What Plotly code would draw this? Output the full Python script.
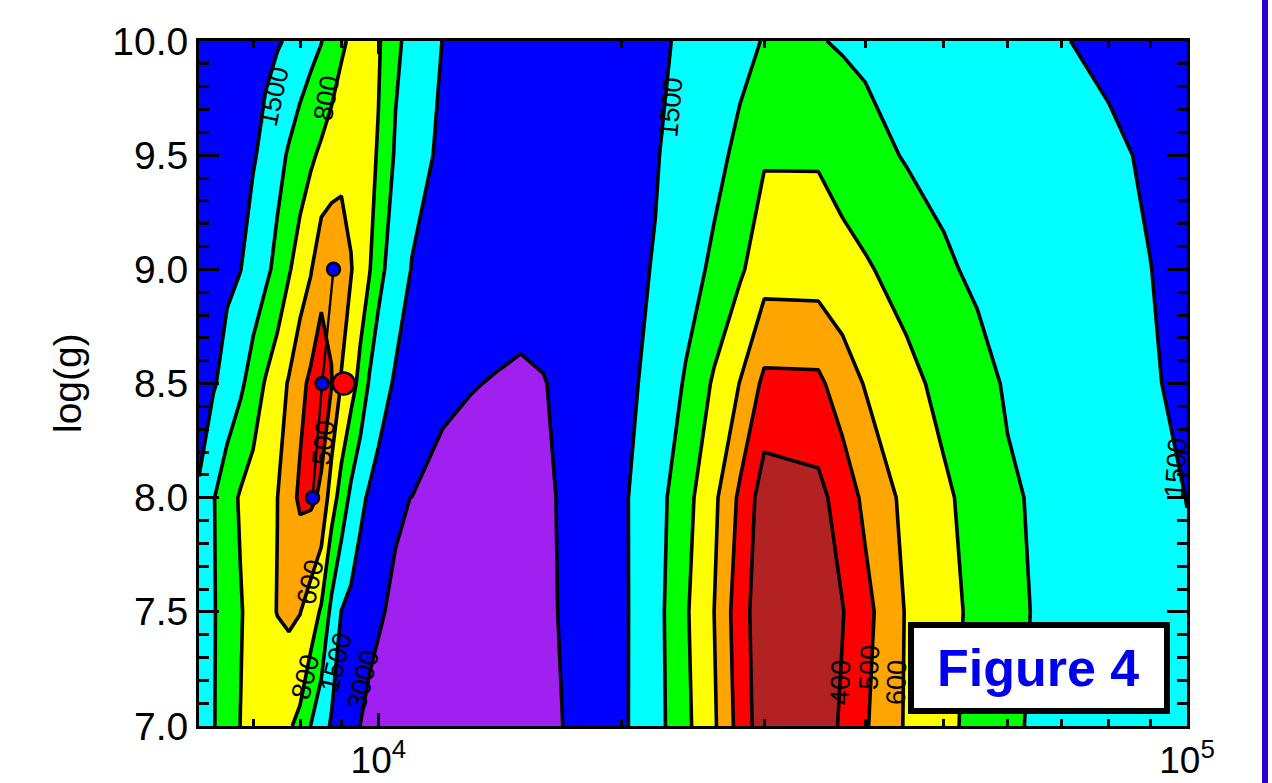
import numpy as np
import plotly.graph_objects as go

# ---------------- data ----------------
TEFF = [6000, 6250, 6500, 6750, 7000, 7250, 7500, 7750, 8000, 8250,
        8500, 8750, 9000, 9250, 9500, 9750, 10000, 10500, 11000, 12000,
        13000, 14000, 15000, 16000, 17000, 18000, 20000, 22000, 24000, 26000,
        28000, 30000, 35000, 37500, 40000, 45000, 50000, 55000, 60000, 70000,
        80000, 90000, 100000]
LOGG = [7.0, 7.5, 8.0, 8.5, 9.0, 9.5, 10.0]

CHI2_G70 = [1250, 1030, 904, 798, 774, 750, 756, 780, 846, 1010, 1305, 1650, 2175, 2670, 3030,
            3180, 3300, 3540, 3780, 4230, 4350, 3990, 3630, 3300, 2985, 2535, 1725, 1195, 844, 630,
            461, 340, 350, 413, 490, 622, 750, 858, 982, 1100, 1220, 1330, 1425]
CHI2_G75 = [1300, 1040, 912, 814, 734, 660, 597, 581, 597, 694, 826, 1125, 1530, 1860, 2175,
            2895, 2955, 3150, 3390, 3810, 4200, 3870, 3540, 3240, 2940, 2505, 1740, 1185, 824, 602,
            444, 335, 350, 396, 470, 616, 738, 844, 974, 1090, 1225, 1345, 1450]
CHI2_G80 = [1460, 1030, 882, 780, 718, 658, 602, 540, 483, 482, 515, 708, 880, 1115, 1405,
            1680, 1965, 2940, 3015, 3900, 4350, 4140, 3750, 3300, 2895, 2475, 1710, 1215, 864, 644,
            481, 349, 372, 443, 522, 652, 768, 866, 980, 1115, 1260, 1385, 1515]
CHI2_G85 = [2025, 1635, 1335, 1095, 912, 784, 684, 592, 528, 480, 450, 495, 612, 724, 860,
            1055, 1305, 1650, 1905, 2700, 2925, 3180, 3420, 3090, 2775, 2460, 1875, 1370, 980, 774,
            597, 477, 480, 550, 612, 744, 854, 950, 1040, 1200, 1340, 1465, 1725]
CHI2_G90 = [2250, 2010, 1755, 1530, 1315, 1115, 944, 818, 710, 614, 530, 525, 555, 595, 688,
            788, 934, 1285, 1545, 1785, 2010, 2205, 2400, 2520, 2325, 2130, 1800, 1480, 1200, 964,
            828, 686, 692, 736, 778, 878, 978, 1065, 1140, 1275, 1390, 1495, 1800]
CHI2_G95 = [2400, 2190, 1980, 1800, 1605, 1400, 1160, 978, 900, 830, 766, 708, 650, 658, 708,
            758, 814, 1060, 1375, 1665, 1875, 2055, 2220, 2385, 2250, 2100, 1830, 1575, 1345, 1135,
            956, 818, 818, 878, 936, 1035, 1110, 1175, 1240, 1350, 1445, 1620, 1950]
CHI2_G100 = [2550, 2385, 2205, 2055, 1890, 1740, 1605, 1455, 1295, 1155, 1015, 922, 834, 768, 716,
             732, 778, 962, 1160, 1515, 1725, 1920, 2100, 2280, 2370, 2205, 1920, 1665, 1450, 1285,
             1135, 990, 990, 1045, 1090, 1175, 1245, 1315, 1375, 1485, 1695, 1905, 2100]

CONTOUR_LEVELS = [400, 500, 600, 800, 1000, 1500, 3000]
BAND_FLOOR = 300
BAND_CEIL = 6000

FIT_TEFF = [8800, 8520, 8290]
FIT_LOGG = [9.0, 8.5, 8.0]
BEST_TEFF = [9060]
BEST_LOGG = [8.5]

Y_TICKS = [7.0, 7.5, 8.0, 8.5, 9.0, 9.5, 10.0]
X_TICKS = [1e4, 1e5]
X_TICKTEXT = ["10<sup>4</sup>", "10<sup>5</sup>"]
X_MINOR = [7000, 8000, 9000, 20000, 30000, 40000, 50000, 60000, 70000, 80000, 90000]

LABEL_TEXT = ["1500", "800", "1500", "500", "600", "800", "1500", "3000", "400", "500", "600", "1500"]
LABEL_TEFF = [7420, 8630, 23020, 8550, 8240, 8125, 8875, 9585, 37250, 40450, 43690, 96900]
LABEL_LOGG = [9.755, 9.75, 9.71, 8.24, 7.63, 7.215, 7.28, 7.20, 7.19, 7.255, 7.19, 8.13]
LABEL_ANGLE = [-78, -80, -85, -84, -78, -76, -76, -76, -88, -88, -88, -86]

BAND_COLORS = ["#B22222", "#FF0000", "#FFA500", "#FFFF00", "#00FF00", "#00FFFF", "#0000FF", "#A020F0"]

# ---------------- build ----------------
FONT = "Liberation Sans, Arial, Helvetica, sans-serif"
z = np.array([CHI2_G70, CHI2_G75, CHI2_G80, CHI2_G85, CHI2_G90, CHI2_G95, CHI2_G100], dtype=float)
edges = [BAND_FLOOR] + CONTOUR_LEVELS + [BAND_CEIL]
zi = np.interp(z, edges, np.arange(len(edges)))   # map uneven levels onto evenly spaced bands

nb = len(BAND_COLORS)
cscale = []
for k, c in enumerate(BAND_COLORS):
    cscale.append([k / nb, c])
    cscale.append([(k + 1) / nb, c])

fig = go.Figure()
fig.add_trace(go.Contour(
    x=TEFF, y=LOGG, z=zi, zmin=0, zmax=nb, autocontour=False,
    contours=dict(start=1, end=len(CONTOUR_LEVELS), size=1, coloring="fill", showlines=True),
    line=dict(color="black", width=3.6, smoothing=0),
    colorscale=cscale, showscale=False, hoverinfo="skip"))

fig.add_trace(go.Scatter(
    x=FIT_TEFF, y=FIT_LOGG, mode="lines+markers",
    line=dict(color="black", width=2.4),
    marker=dict(size=13, color="#0000FF", line=dict(color="black", width=2.5)),
    showlegend=False, hoverinfo="skip"))
fig.add_trace(go.Scatter(
    x=BEST_TEFF, y=BEST_LOGG, mode="markers",
    marker=dict(size=22, color="#FF0000", line=dict(color="black", width=2.5)),
    showlegend=False, hoverinfo="skip"))

annotations = []
for t, te, g, a in zip(LABEL_TEXT, LABEL_TEFF, LABEL_LOGG, LABEL_ANGLE):
    annotations.append(dict(x=np.log10(te), y=g, xref="x", yref="y", text=t, textangle=a,
                            showarrow=False, xanchor="center", yanchor="middle",
                            font=dict(family=FONT, size=27, color="black")))

L, R, T, B = 199, 85, 41, 57
W, H = 1272, 783
pw, ph = W - L - R, H - T - B

def px(xp):
    return (xp - L) / pw

def py(yp):
    return (H - B - yp) / ph

annotations.append(dict(x=px(67), y=py(383), xref="paper", yref="paper", text="log(g)",
                        textangle=-90, showarrow=False, xanchor="center", yanchor="middle",
                        font=dict(family=FONT, size=39, color="black")))
annotations.append(dict(x=px(1038), y=py(668), xref="paper", yref="paper", text="<b>Figure 4</b>",
                        showarrow=False, xanchor="center", yanchor="middle",
                        font=dict(family=FONT, size=52, color="#0000EE")))

shapes = [
    dict(type="rect", xref="paper", yref="paper", x0=px(911), x1=px(1167), y0=py(711), y1=py(625),
         line=dict(color="black", width=6), fillcolor="white", layer="above"),
    dict(type="rect", xref="paper", yref="paper", x0=px(1262), x1=px(1268), y0=py(H + 5), y1=py(-5),
         line=dict(width=0), fillcolor="#2A00D4", layer="above"),
]

fig.update_layout(
    width=W, height=H, margin=dict(l=L, r=R, t=T, b=B, autoexpand=False),
    paper_bgcolor="white", plot_bgcolor="white",
    annotations=annotations, shapes=shapes, showlegend=False,
    xaxis=dict(type="log", range=[np.log10(6000), 5], tickmode="array", tickvals=X_TICKS,
               ticktext=X_TICKTEXT, ticks="inside", ticklen=13, tickwidth=2.5, tickcolor="black",
               showline=True, linewidth=3, linecolor="black", mirror="ticks", automargin=False,
               showgrid=False, zeroline=False,
               tickfont=dict(family=FONT, size=37, color="black"),
               minor=dict(tickmode="array", tickvals=X_MINOR, ticks="inside", ticklen=7,
                          tickwidth=2.5, tickcolor="black", showgrid=False)),
    yaxis=dict(range=[7, 10], tickmode="array", tickvals=Y_TICKS,
               ticktext=["%.1f" % v for v in Y_TICKS], ticks="inside", ticklen=20, tickwidth=3,
               tickcolor="black", showline=True, linewidth=3, linecolor="black", mirror="ticks",
               automargin=False, showgrid=False, zeroline=False,
               tickfont=dict(family=FONT, size=39, color="black"),
               minor=dict(dtick=0.1, tick0=7, ticks="inside", ticklen=10, tickwidth=3,
                          tickcolor="black", showgrid=False)),
)

fig.write_html("out.html")
